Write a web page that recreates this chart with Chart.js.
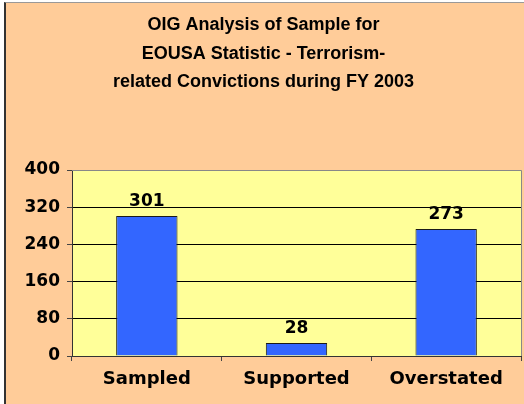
<!DOCTYPE html>
<html>
<head>
<meta charset="utf-8">
<script src="https://cdn.jsdelivr.net/npm/chart.js@4"></script>
<style>
  body { margin: 0; background: #fff; }
  #box { position: absolute; left: 4px; top: 2px; width: 518px; height: 401px;
         border-left: 2px solid #333; border-top: 1px solid #999; background: #FFCC99; }
</style>
</head>
<body>
<div id="box"><canvas id="myChart" width="518" height="401"></canvas></div>
<script>
// chart values
categories = ['Sampled', 'Supported', 'Overstated'];
counts = [301, 28, 273];
yTicks = [0, 80, 160, 240, 320, 400];
titleLines = ['OIG Analysis of Sample for', 'EOUSA Statistic - Terrorism-', 'related Convictions during FY 2003'];

const FONT = "'DejaVu Sans', Verdana, sans-serif";

// yellow plot background + grey frame on top/right
const plotFrame = {
    id: 'plotFrame',
    beforeDraw(chart) {
        const a = chart.chartArea, ctx = chart.ctx;
        ctx.save();
        ctx.fillStyle = '#FFFF99';
        ctx.fillRect(a.left, a.top, a.right - a.left, a.bottom - a.top);
        ctx.restore();
    },
    afterDraw(chart) {
        const a = chart.chartArea, ctx = chart.ctx;
        ctx.save();
        ctx.strokeStyle = '#888';
        ctx.lineWidth = 1;
        ctx.beginPath();
        ctx.moveTo(a.left, Math.round(a.top) + 0.5);
        ctx.lineTo(Math.round(a.right) + 0.5, Math.round(a.top) + 0.5);
        ctx.lineTo(Math.round(a.right) + 0.5, a.bottom);
        ctx.stroke();
        ctx.restore();
    }
};

// value labels above each bar
const barLabels = {
    id: 'barLabels',
    afterDatasetsDraw(chart) {
        const ctx = chart.ctx;
        const meta = chart.getDatasetMeta(0);
        ctx.save();
        ctx.font = 'bold 17px ' + FONT;
        ctx.fillStyle = '#000';
        ctx.textAlign = 'center';
        ctx.textBaseline = 'middle';
        meta.data.forEach((bar, i) => {
            ctx.fillText(String(counts[i]), bar.x, bar.y - 14);
        });
        ctx.restore();
    }
};

const ctx = document.getElementById('myChart').getContext('2d');
const chart = new Chart(ctx, {
    type: 'bar',
    data: {
        labels: categories,
        datasets: [{
            data: counts,
            backgroundColor: '#3366FF',
            borderColor: '#1a1a1a',
            borderWidth: 1,
            categoryPercentage: 1,
            barPercentage: 0.41
        }]
    },
    options: {
        responsive: false,
        animation: false,
        layout: { padding: { top: 0, left: 0, right: 3, bottom: 0 } },
        plugins: {
            legend: { display: false },
            tooltip: { enabled: false },
            title: {
                display: true,
                text: titleLines,
                color: '#000',
                font: { family: "'Liberation Sans', Arial, sans-serif", size: 18, weight: 'bold', lineHeight: 28.5 / 18 },
                padding: { top: 8, bottom: 73.5 }
            }
        },
        scales: {
            x: {
                afterFit(scale) { scale.height = 48; },
                grid: { display: true, drawOnChartArea: false, offset: true, tickLength: 5, color: '#444' },
                border: { color: '#333', width: 1 },
                ticks: { color: '#000', padding: 8, font: { family: FONT, size: 18, weight: 'bold' } }
            },
            y: {
                min: 0,
                max: 400,
                afterFit(scale) { scale.width = 66; },
                afterBuildTicks(scale) { scale.ticks = yTicks.map(v => ({ value: v })); },
                grid: { color: '#000', lineWidth: 1, tickLength: 5, tickColor: '#444' },
                border: { color: '#333', width: 1 },
                ticks: { color: '#000', padding: 7, font: { family: FONT, size: 17, weight: 'bold' } }
            }
        }
    },
    plugins: [plotFrame, barLabels]
});
</script>
</body>
</html>
